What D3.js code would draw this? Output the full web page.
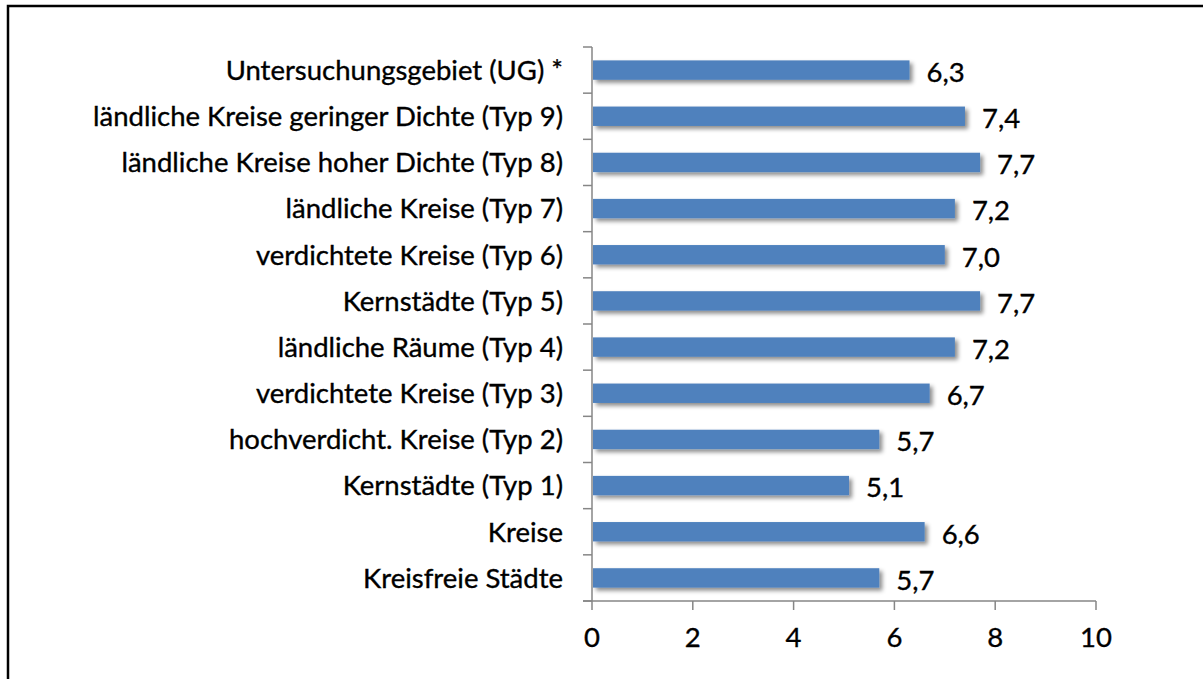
<!DOCTYPE html>
<html>
<head>
<meta charset="utf-8">
<script src="https://cdn.jsdelivr.net/npm/d3@7/dist/d3.min.js"></script>
<style>
  html, body { margin: 0; padding: 0; background: #fff; }
  svg { display: block; }
  text { font-family: "Lato", "Open Sans", sans-serif; fill: #000; stroke: #000; stroke-width: 0.35px; }
</style>
</head>
<body>
<svg id="chart" width="1203" height="679"></svg>
<script>
const categories = [
  "Untersuchungsgebiet (UG) *",
  "ländliche Kreise geringer Dichte (Typ 9)",
  "ländliche Kreise hoher Dichte (Typ 8)",
  "ländliche Kreise (Typ 7)",
  "verdichtete Kreise (Typ 6)",
  "Kernstädte (Typ 5)",
  "ländliche Räume (Typ 4)",
  "verdichtete Kreise (Typ 3)",
  "hochverdicht. Kreise (Typ 2)",
  "Kernstädte (Typ 1)",
  "Kreise",
  "Kreisfreie Städte"
];
const values = [6.3, 7.4, 7.7, 7.2, 7.0, 7.7, 7.2, 6.7, 5.7, 5.1, 6.6, 5.7];
const xTicks = [0, 2, 4, 6, 8, 10];

const svg = d3.select("#chart");
const FS = 27.5;

// frame
svg.append("path")
  .attr("d", "M8,679 L8,6 L1203,6")
  .attr("fill", "none").attr("stroke", "#000").attr("stroke-width", 2.5);

const defs = svg.append("defs");
const f = defs.append("filter").attr("id", "shadow")
  .attr("x", "-5%").attr("y", "-50%").attr("width", "115%").attr("height", "220%");
f.append("feDropShadow").attr("dx", 3).attr("dy", 3).attr("stdDeviation", 2.2)
  .attr("flood-color", "#000").attr("flood-opacity", 0.45);

const x = d3.scaleLinear().domain([0, 10]).range([592, 1096]);
const y = d3.scaleBand().domain(categories).range([47, 601]).paddingInner(0.58).paddingOuter(0.29);

const data = categories.map((c, i) => ({ c, v: values[i] }));

// bars
svg.append("g").selectAll("rect").data(data).join("rect")
  .attr("x", x(0) + 1)
  .attr("y", d => y(d.c))
  .attr("width", d => x(d.v) - x(0) - 1)
  .attr("height", y.bandwidth())
  .attr("fill", "#4F81BD")
  .attr("filter", "url(#shadow)");

// y axis
const axisColor = "#868686";
const gy = svg.append("g");
gy.append("line").attr("x1", x(0)).attr("x2", x(0)).attr("y1", 47).attr("y2", 601)
  .attr("stroke", axisColor).attr("stroke-width", 1.5);
const bounds = d3.range(categories.length + 1).map(i => 47 + i * (554 / categories.length));
gy.selectAll("line.t").data(bounds).join("line").attr("class", "t")
  .attr("x1", x(0) - 9).attr("x2", x(0)).attr("y1", d => d).attr("y2", d => d)
  .attr("stroke", axisColor).attr("stroke-width", 1.5);
gy.selectAll("text").data(categories).join("text")
  .attr("x", 563)
  .attr("y", d => y(d) + y.bandwidth() / 2)
  .attr("dy", "0.36em")
  .attr("text-anchor", "end")
  .attr("font-size", FS)
  .text(d => d);

// x axis
const gx = svg.append("g");
gx.append("line").attr("x1", x(0) - 9).attr("x2", x(10)).attr("y1", 601).attr("y2", 601)
  .attr("stroke", axisColor).attr("stroke-width", 1.5);
gx.selectAll("line.t").data(xTicks).join("line").attr("class", "t")
  .attr("x1", d => x(d)).attr("x2", d => x(d)).attr("y1", 601).attr("y2", 610)
  .attr("stroke", axisColor).attr("stroke-width", 1.5);
gx.selectAll("text").data(xTicks).join("text")
  .attr("x", d => x(d)).attr("y", 647)
  .attr("text-anchor", "middle").attr("font-size", FS)
  .text(d => d);

// value labels
svg.append("g").selectAll("text").data(data).join("text")
  .attr("x", d => x(d.v) + 17)
  .attr("y", d => y(d.c) + y.bandwidth() / 2 + 2)
  .attr("dy", "0.36em")
  .attr("font-size", FS)
  .text(d => d.v.toFixed(1).replace(".", ","));
</script>
</body>
</html>
